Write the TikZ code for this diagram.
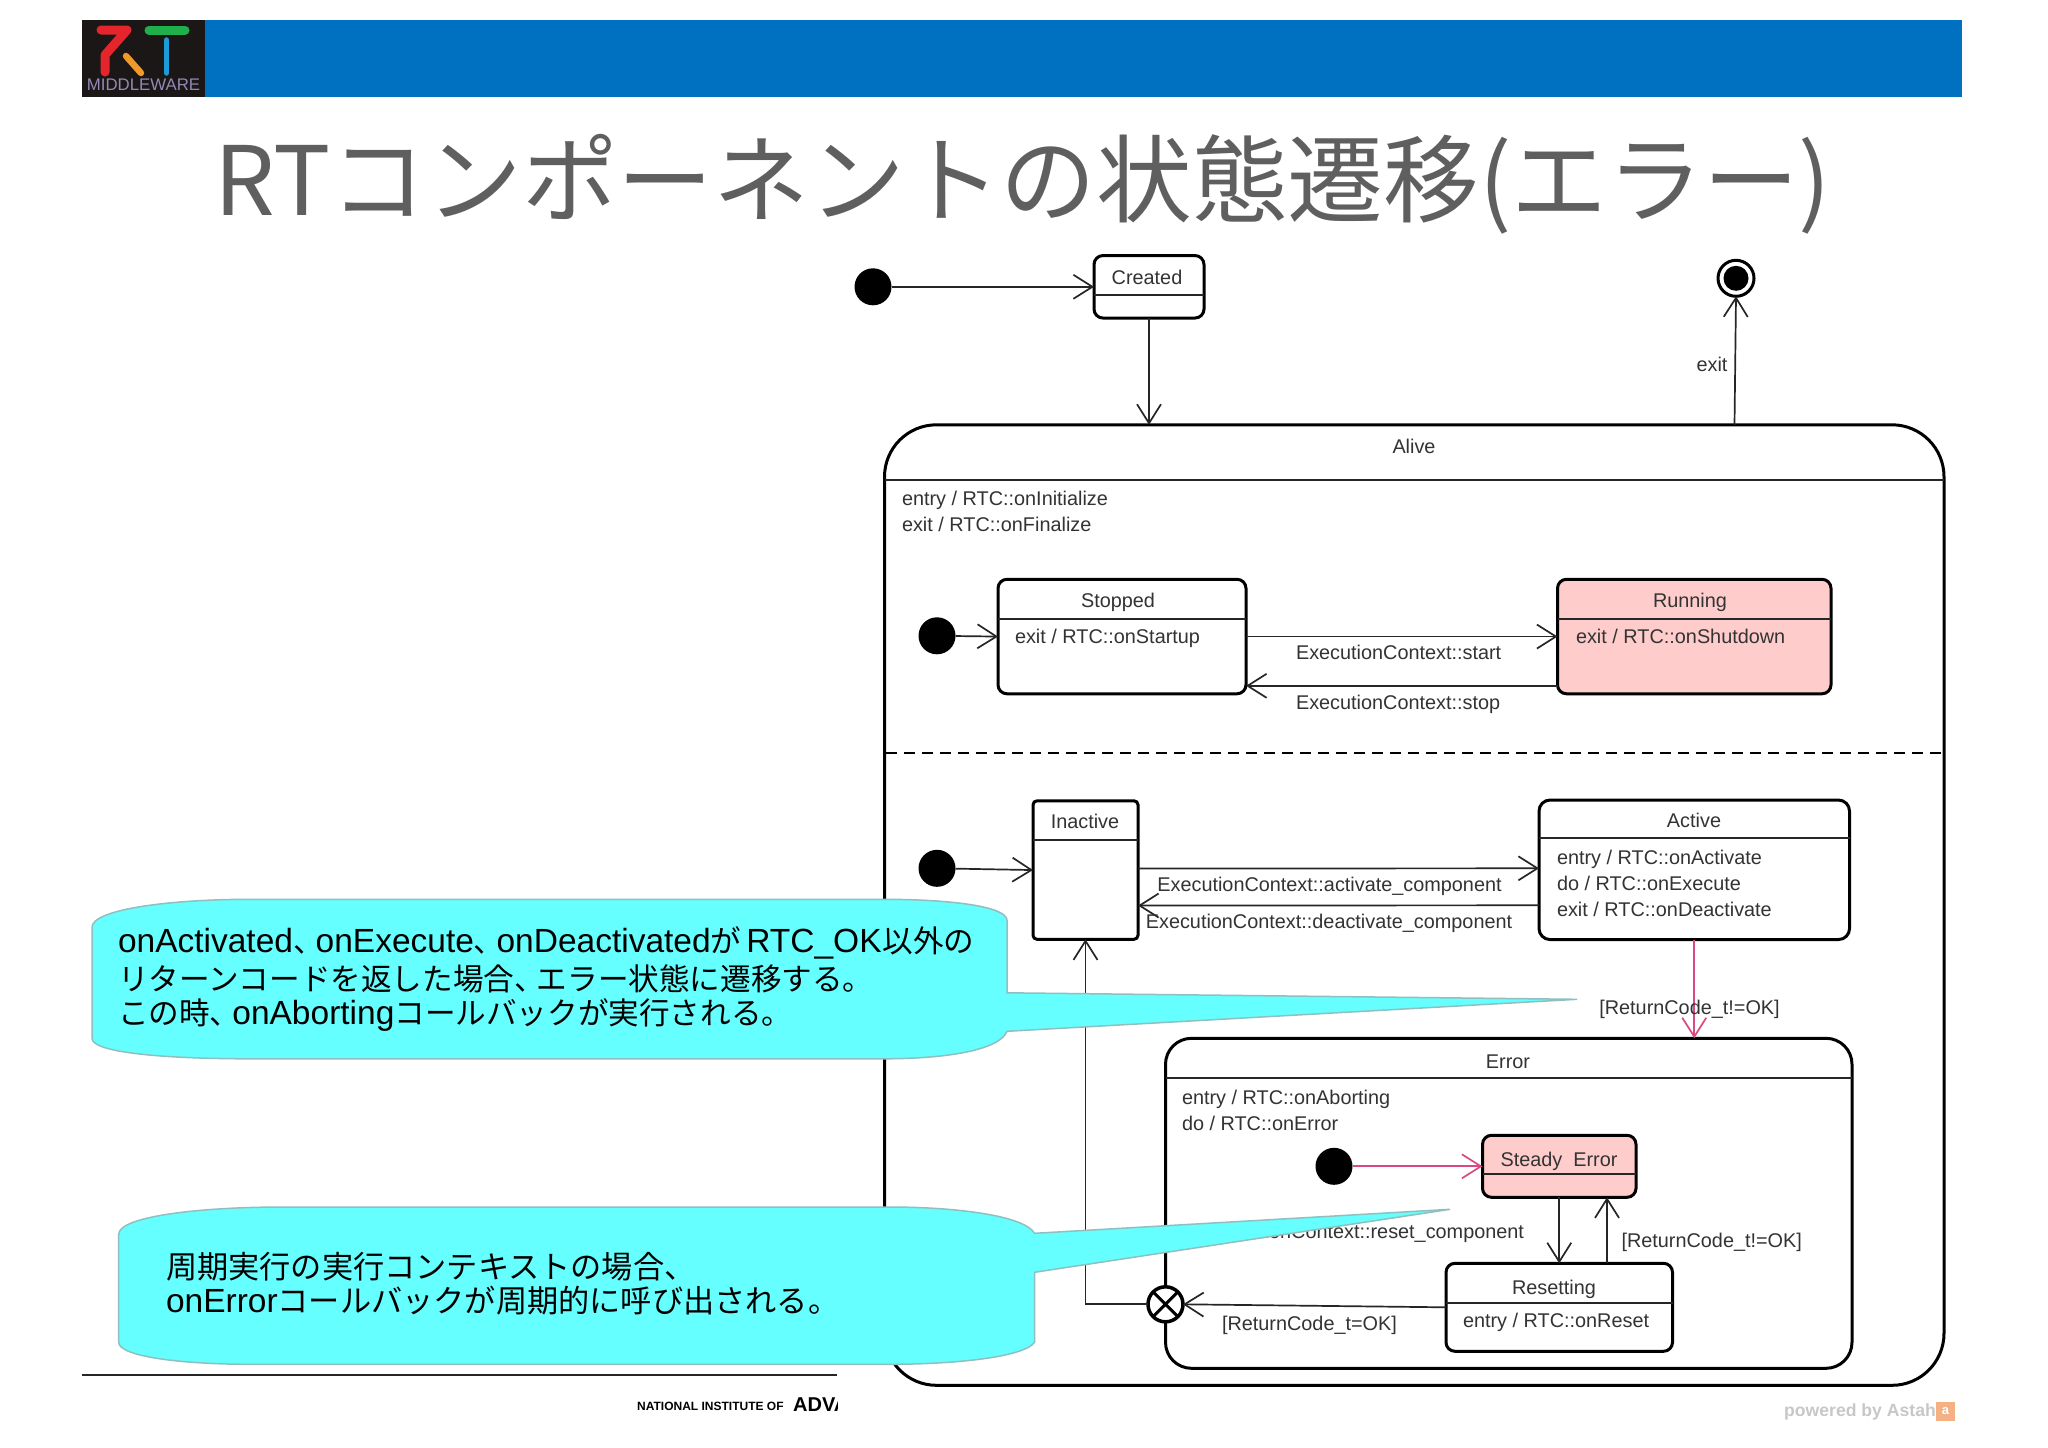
\documentclass[tikz,border=0pt]{standalone}
\usepackage{fontspec}
\setmainfont{Liberation Sans}
\newfontfamily\cjk{Noto Sans CJK JP}
\usetikzlibrary{arrows.meta}
\definecolor{barblue}{HTML}{0070C0}
\definecolor{titlegray}{HTML}{5F5F5F}
\definecolor{inktext}{HTML}{333333}
\definecolor{statepink}{HTML}{FFCCCC}
\definecolor{flowpink}{HTML}{D94A82}
\definecolor{bubblecyan}{HTML}{66FFFF}
\definecolor{bubbleedge}{HTML}{8FBFBF}
\definecolor{logoblack}{HTML}{1A1716}
\definecolor{logored}{HTML}{E4262C}
\definecolor{logoorange}{HTML}{F09A2C}
\definecolor{logogreen}{HTML}{1FAF4B}
\definecolor{logoblue}{HTML}{1B9BD7}
\definecolor{logoviolet}{HTML}{9488B4}
\definecolor{astahorange}{HTML}{F4B183}
\newcommand{\J}[1]{{\fontsize{30.6}{36}\selectfont\cjk #1}}
\newcommand{\Jb}[1]{{\fontsize{31.2}{36}\selectfont\cjk #1}}
\newcommand{\Jc}{{\fontsize{30.6}{36}\selectfont\cjk 、}\hspace{-8pt}}
\newcommand{\dgfont}{\fontsize{19.85}{26}\selectfont}
\newcommand{\bubfont}{\fontsize{33.5}{36}\selectfont}
\tikzset{
  x=1pt,y=-1pt,
  stbox/.style={draw=black,line width=3pt,rounded corners=9pt,inner sep=0pt,outer sep=0pt,fill=white},
  stpink/.style={stbox,fill=statepink},
  divider/.style={line width=2pt,draw=black!85},
  startdot/.style={circle,fill=black,minimum size=37pt,inner sep=0pt,outer sep=0pt},
  lbl/.style={font=\dgfont,text=inktext,inner sep=0pt,outer sep=0pt,text height=14pt,text depth=4pt},
  lblw/.style={lbl,anchor=west},
  mlbl/.style={font=\dgfont,text=inktext,inner sep=0pt,outer sep=0pt,anchor=west,align=left},
  arr/.style={draw=black!85,line width=1.7pt,-{Straight Barb[length=19pt,width=24pt,line width=1.7pt]}},
  arrpink/.style={arr,draw=flowpink},
  bubble/.style={draw=bubbleedge,line width=1.5pt,fill=bubblecyan},
  bubtext/.style={font=\bubfont,text=black,inner sep=0pt,outer sep=0pt,anchor=west,align=left},
}
\begin{document}
\begin{tikzpicture}
\useasboundingbox (0,0) rectangle (2048,1448);
% header
\fill[barblue] (82,19.5) rectangle (1962,97);
\fill[logoblack] (82,19.5) rectangle (205,97);
\draw[line width=9pt,line cap=round,line join=round,draw=logored] (101,30) -- (127,30) -- (105,55) -- (105,72);
\draw[line width=6.5pt,line cap=round,draw=logoorange] (126,56) -- (141,73);
\draw[line width=9pt,line cap=round,draw=logogreen] (149,30) -- (185,30);
\draw[line width=5.5pt,line cap=round,draw=logoblue] (166.5,40) -- (166.5,73);
\node[font=\fontsize{16.8}{17}\selectfont,text=logoviolet,inner sep=0pt] (mw) at (143.5,84.7) {MIDDLEWARE};
\node[font=\cjk\fontsize{95.7}{100}\selectfont,text=titlegray,inner sep=0pt,anchor=base west] (title) at (214,215.5) {RTコンポーネントの状態遷移(エラー)};

\begin{scope}[yshift=-1.3pt]
% Alive
\node[stbox,rounded corners=52pt,minimum width=1059.5pt,minimum height=960.5pt] (alive) at (1414.25,903.75) {};
\draw[divider] (884.5,479) -- (1944,479);
\node[lbl] (alivet) at (1414,447) {Alive};
\node[mlbl] (alivee) at (902,509.7) {entry / RTC::onInitialize\\exit / RTC::onFinalize};
\draw[dashed,line width=2pt,dash pattern=on 11pt off 7pt] (886,752) -- (1942,752);

% Created
\node[startdot] (i1) at (873,285.5) {};
\node[stbox,minimum width=110pt,minimum height=62.5pt] (created) at (1149,285.5) {};
\draw[divider] (1094,293.5) -- (1204,293.5);
\node[lbl] (createdt) at (1147,278.5) {Created};
\draw[arr] (i1) -- (created.west);
\draw[arr] (created.south) -- (created.south |- alive.north);

% Final
\node[circle,draw=black,line width=3pt,fill=white,minimum size=36pt,inner sep=0pt,outer sep=0pt] (final) at (1736,277) {};
\node[circle,fill=black,minimum size=25pt,inner sep=0pt] (finalin) at (final) {};
\coordinate (exfrom) at (1734.5,423.5);
\draw[arr] (exfrom) -- (final.south);
\node[lbl] (exitl) at (1712,365.5) {exit};

% Stopped / Running
\node[startdot] (i2) at (937,634.5) {};
\node[stbox,minimum width=248pt,minimum height=114.5pt] (stopped) at (1122,635.25) {};
\draw[divider] (998,617.5) -- (1246,617.5);
\node[lbl] (stoppedt) at (1118,601.5) {Stopped};
\node[lblw] (stoppede) at (1015,637) {exit / RTC::onStartup};
\node[stpink,minimum width=273.5pt,minimum height=114.5pt] (running) at (1694.25,635.25) {};
\draw[divider] (1557.5,617.5) -- (1831,617.5);
\node[lbl] (runningt) at (1690,601.5) {Running};
\node[lblw] (runninge) at (1576,637) {exit / RTC::onShutdown};
\draw[arr] (i2) -- (stopped.west);
\draw[arr] (stopped.east) -- (running.west);
\draw[arr] ([yshift=-49.25pt]running.west) -- ([yshift=-49.25pt]stopped.east);
\node[lblw] (startl) at (1296,653.5) {ExecutionContext::start};
\node[lblw] (stopl) at (1296,703) {ExecutionContext::stop};

% Inactive / Active
\node[startdot] (i3) at (937,867) {};
\node[stbox,rounded corners=4pt,minimum width=105pt,minimum height=138.5pt] (inactive) at (1085.5,868.75) {};
\draw[divider] (1033,839) -- (1138,839);
\node[lbl] (inactivet) at (1085,822.5) {Inactive};
\node[stbox,rounded corners=11pt,minimum width=310.5pt,minimum height=139.5pt] (active) at (1694.25,868.5) {};
\draw[divider] (1539,837) -- (1849.5,837);
\node[lbl] (activet) at (1694,821.5) {Active};
\node[mlbl] (activee) at (1557,882) {entry / RTC::onActivate\\do / RTC::onExecute\\exit / RTC::onDeactivate};
\draw[arr] (i3) -- (inactive.west);
\draw[arr] ([yshift=1.5pt]inactive.east) -- ([yshift=1.5pt]active.west);
\draw[arr] ([yshift=-35.5pt]active.west) -- ([yshift=-35.5pt]inactive.east);
\node[lbl] (actl) at (1329.5,885.5) {ExecutionContext::activate\_component};
\node[lbl] (deactl) at (1329,922.5) {ExecutionContext::deactivate\_component};

% Error
\node[stbox,rounded corners=26pt,minimum width=686.5pt,minimum height=330pt] (error) at (1508.75,1202) {};
\draw[divider] (1165.5,1077) -- (1852,1077);
\node[lbl] (errort) at (1508,1062) {Error};
\node[mlbl] (errore) at (1182,1108.7) {entry / RTC::onAborting\\do / RTC::onError};
\draw[arrpink] (active.south) -- (active.south |- error.north);
\node[lbl] (rcl1) at (1689.5,1008) {[ReturnCode\_t!=OK]};

% Steady Error
\node[startdot] (i4) at (1334,1165) {};
\node[stpink,minimum width=153.5pt,minimum height=62pt] (steady) at (1559.25,1165) {};
\draw[divider] (1482.5,1173) -- (1636,1173);
\node[lbl] (steadyt) at (1559,1160) {Steady\ \ Error};
\draw[arrpink] (i4) -- (steady.west);

% Resetting
\node[stbox,minimum width=226.5pt,minimum height=88pt] (resetting) at (1559.25,1306) {};
\draw[divider] (1446,1302) -- (1672.5,1302);
\node[lbl] (resettingt) at (1554,1288) {Resetting};
\node[lblw] (resettinge) at (1463,1321.5) {entry / RTC::onReset};
\draw[arr] (steady.south) -- (resetting.north);
\draw[arr] ([xshift=47.75pt]resetting.north) -- ([xshift=47.75pt]steady.south);
\node[lblw] (rcl2) at (1621.5,1241) {[ReturnCode\_t!=OK]};
\node[lbl,anchor=east] (resetl) at (1524,1232.5) {ExecutionContext::reset\_component};
\node[lblw] (rcl3) at (1222,1324) {[ReturnCode\_t=OK]};

% exit point
\node[circle,draw=black,line width=3.5pt,fill=white,minimum size=35pt,inner sep=0pt,outer sep=0pt] (xp) at (1165.5,1303) {};
\draw[line width=3pt] (xp.45) -- (xp.225) (xp.135) -- (xp.315);
\draw[arr] (resetting.west) -- (xp.east);
\draw[arr] (xp.west) -- (xp.west -| inactive.south) -- (inactive.south);

% bubbles
\path[bubble] (92,926) .. controls (92,908) and (170,898) .. (250,898) -- (883,898)
  .. controls (950,898) and (1007,905) .. (1007,919) -- (1007,991.5) -- (1577,998) -- (1007,1030)
  .. controls (1000,1048) and (950,1057.5) .. (883,1057.5) -- (250,1057.5)
  .. controls (170,1057.5) and (92,1052) .. (92,1037) -- cycle;
\node[bubtext] (b1l1) at (118,942) {onActivated\Jc onExecute\Jc onDeactivated\J{が}\hspace{5pt}RTC\_OK\hspace{1pt}\J{以外の}};
\node[bubtext] (b1l2) at (118,978) {\J{リターンコードを返した場合}\Jc\J{エラー状態に遷移する。}};
\node[bubtext] (b1l3) at (118,1014) {\J{この時}\Jc onAborting\J{コールバックが実行される。}};

\path[bubble] (118.7,1233) .. controls (118.7,1215) and (200,1205.7) .. (283,1205.7) -- (889,1205.7)
  .. controls (960,1205.7) and (1025,1215) .. (1034.5,1232) -- (1450,1208) -- (1034.5,1271) -- (1034.5,1341)
  .. controls (1025,1355) and (960,1363) .. (889,1363) -- (251,1363)
  .. controls (180,1363) and (118.7,1355) .. (118.7,1341) -- cycle;
\node[bubtext] (b2l1) at (166,1265) {\Jb{周期実行の実行コンテキストの場合、}};
\node[bubtext] (b2l2) at (166,1299) {onError\Jb{コールバックが周期的に呼び出される。}};

% footer
\draw[line width=2pt,draw=black!85] (82,1374) -- (837,1374);
\node[font=\bfseries\fontsize{12}{13}\selectfont,inner sep=0pt,anchor=west] (aist1) at (637,1405) {NATIONAL INSTITUTE OF};
\begin{scope}
\clip (780,1385) rectangle (837,1425);
\node[font=\bfseries\fontsize{20}{21}\selectfont,inner sep=0pt,anchor=west] (aist2) at (793,1403) {ADVANCED};
\end{scope}
\node[font=\bfseries\fontsize{17.6}{19}\selectfont,text=black!22,inner sep=0pt,anchor=west] (astah) at (1784,1411) {powered by Astah};
\node[fill=astahorange,minimum width=19pt,minimum height=19pt,inner sep=0pt,text=white,font=\bfseries\fontsize{13}{13}\selectfont] (astahicon) at (1945.5,1410) {a};
\end{scope}
\end{tikzpicture}
\end{document}
